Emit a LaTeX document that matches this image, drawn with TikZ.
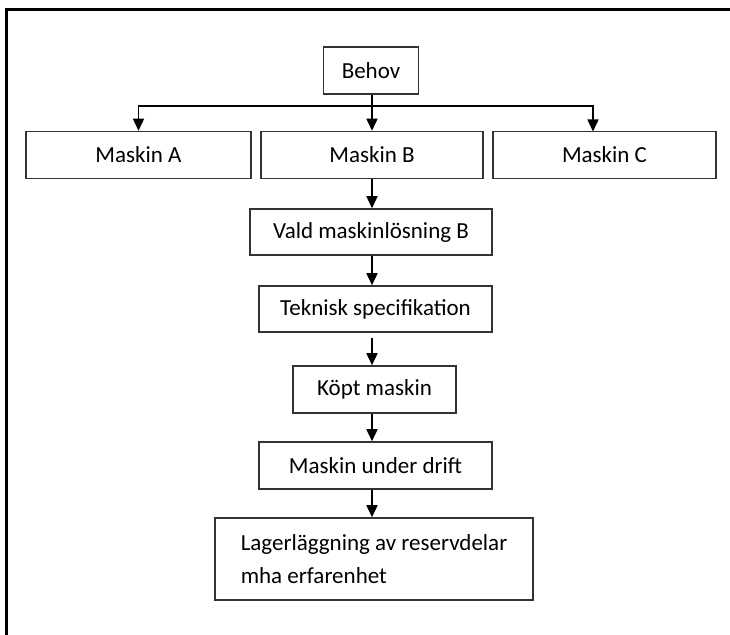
\documentclass[tikz,border=0pt]{standalone}
\usepackage{fontspec}
\setmainfont{Carlito}
\usetikzlibrary{arrows.meta}

\begin{document}
\begin{tikzpicture}[x=0.5pt,y=-0.5pt,
  box/.style={draw=black!80,line width=0.75pt,inner sep=0pt,minimum height=23.5pt,
    font=\fontsize{11.5}{16.5}\selectfont},
  arr/.style={draw=black,line width=0.75pt,-{Triangle[length=6pt,width=5.5pt]}}]
\useasboundingbox (0,0) rectangle (730,635);
\draw[line width=1.5pt] (6,635) -- (6,9.5) -- (730,9.5);

\node [box,minimum width=47.5pt] (behov) at (371,70.5) {Behov};
\node [box,minimum width=112.5pt] (maskA) at (138.5,155) {Maskin A};
\node [box,minimum width=111pt] (maskB) at (372,155) {Maskin B};
\node [box,minimum width=111.5pt] (maskC) at (604.5,155) {Maskin C};
\node [box,minimum width=121pt,minimum height=23pt] (vald) at (371,232) {Vald maskinlösning B};
\node [box,minimum width=116.5pt,minimum height=23pt] (tekn) at (375.5,309) {Teknisk specifikation};
\node [box,minimum width=81.5pt] (kopt) at (374.5,389.5) {Köpt maskin};
\node [box,minimum width=116.5pt] (drift) at (375.5,465.5) {Maskin under drift};
\node [box,minimum width=159pt,minimum height=41pt,align=left] (lager) at (374,559)
  {Lagerläggning av reservdelar\\mha erfarenhet};

\coordinate (bar) at (372,106);
\coordinate (cTop) at (593,131.5);
\coordinate (spine) at (372,0);

\draw[arr] (behov.south -| spine) -- (maskB.north -| spine);
\draw[arr] (bar) -| (maskA.north);
\draw[arr] (bar) -| (cTop);
\draw[arr] (maskB.south -| spine) -- (vald.north -| spine);
\draw[arr] (vald.south -| spine) -- (tekn.north -| spine);
\draw[arr,shorten <=2.5pt] (tekn.south -| spine) -- (kopt.north -| spine);
\draw[arr] (kopt.south -| spine) -- (drift.north -| spine);
\draw[arr] (drift.south -| spine) -- (lager.north -| spine);
\end{tikzpicture}
\end{document}
